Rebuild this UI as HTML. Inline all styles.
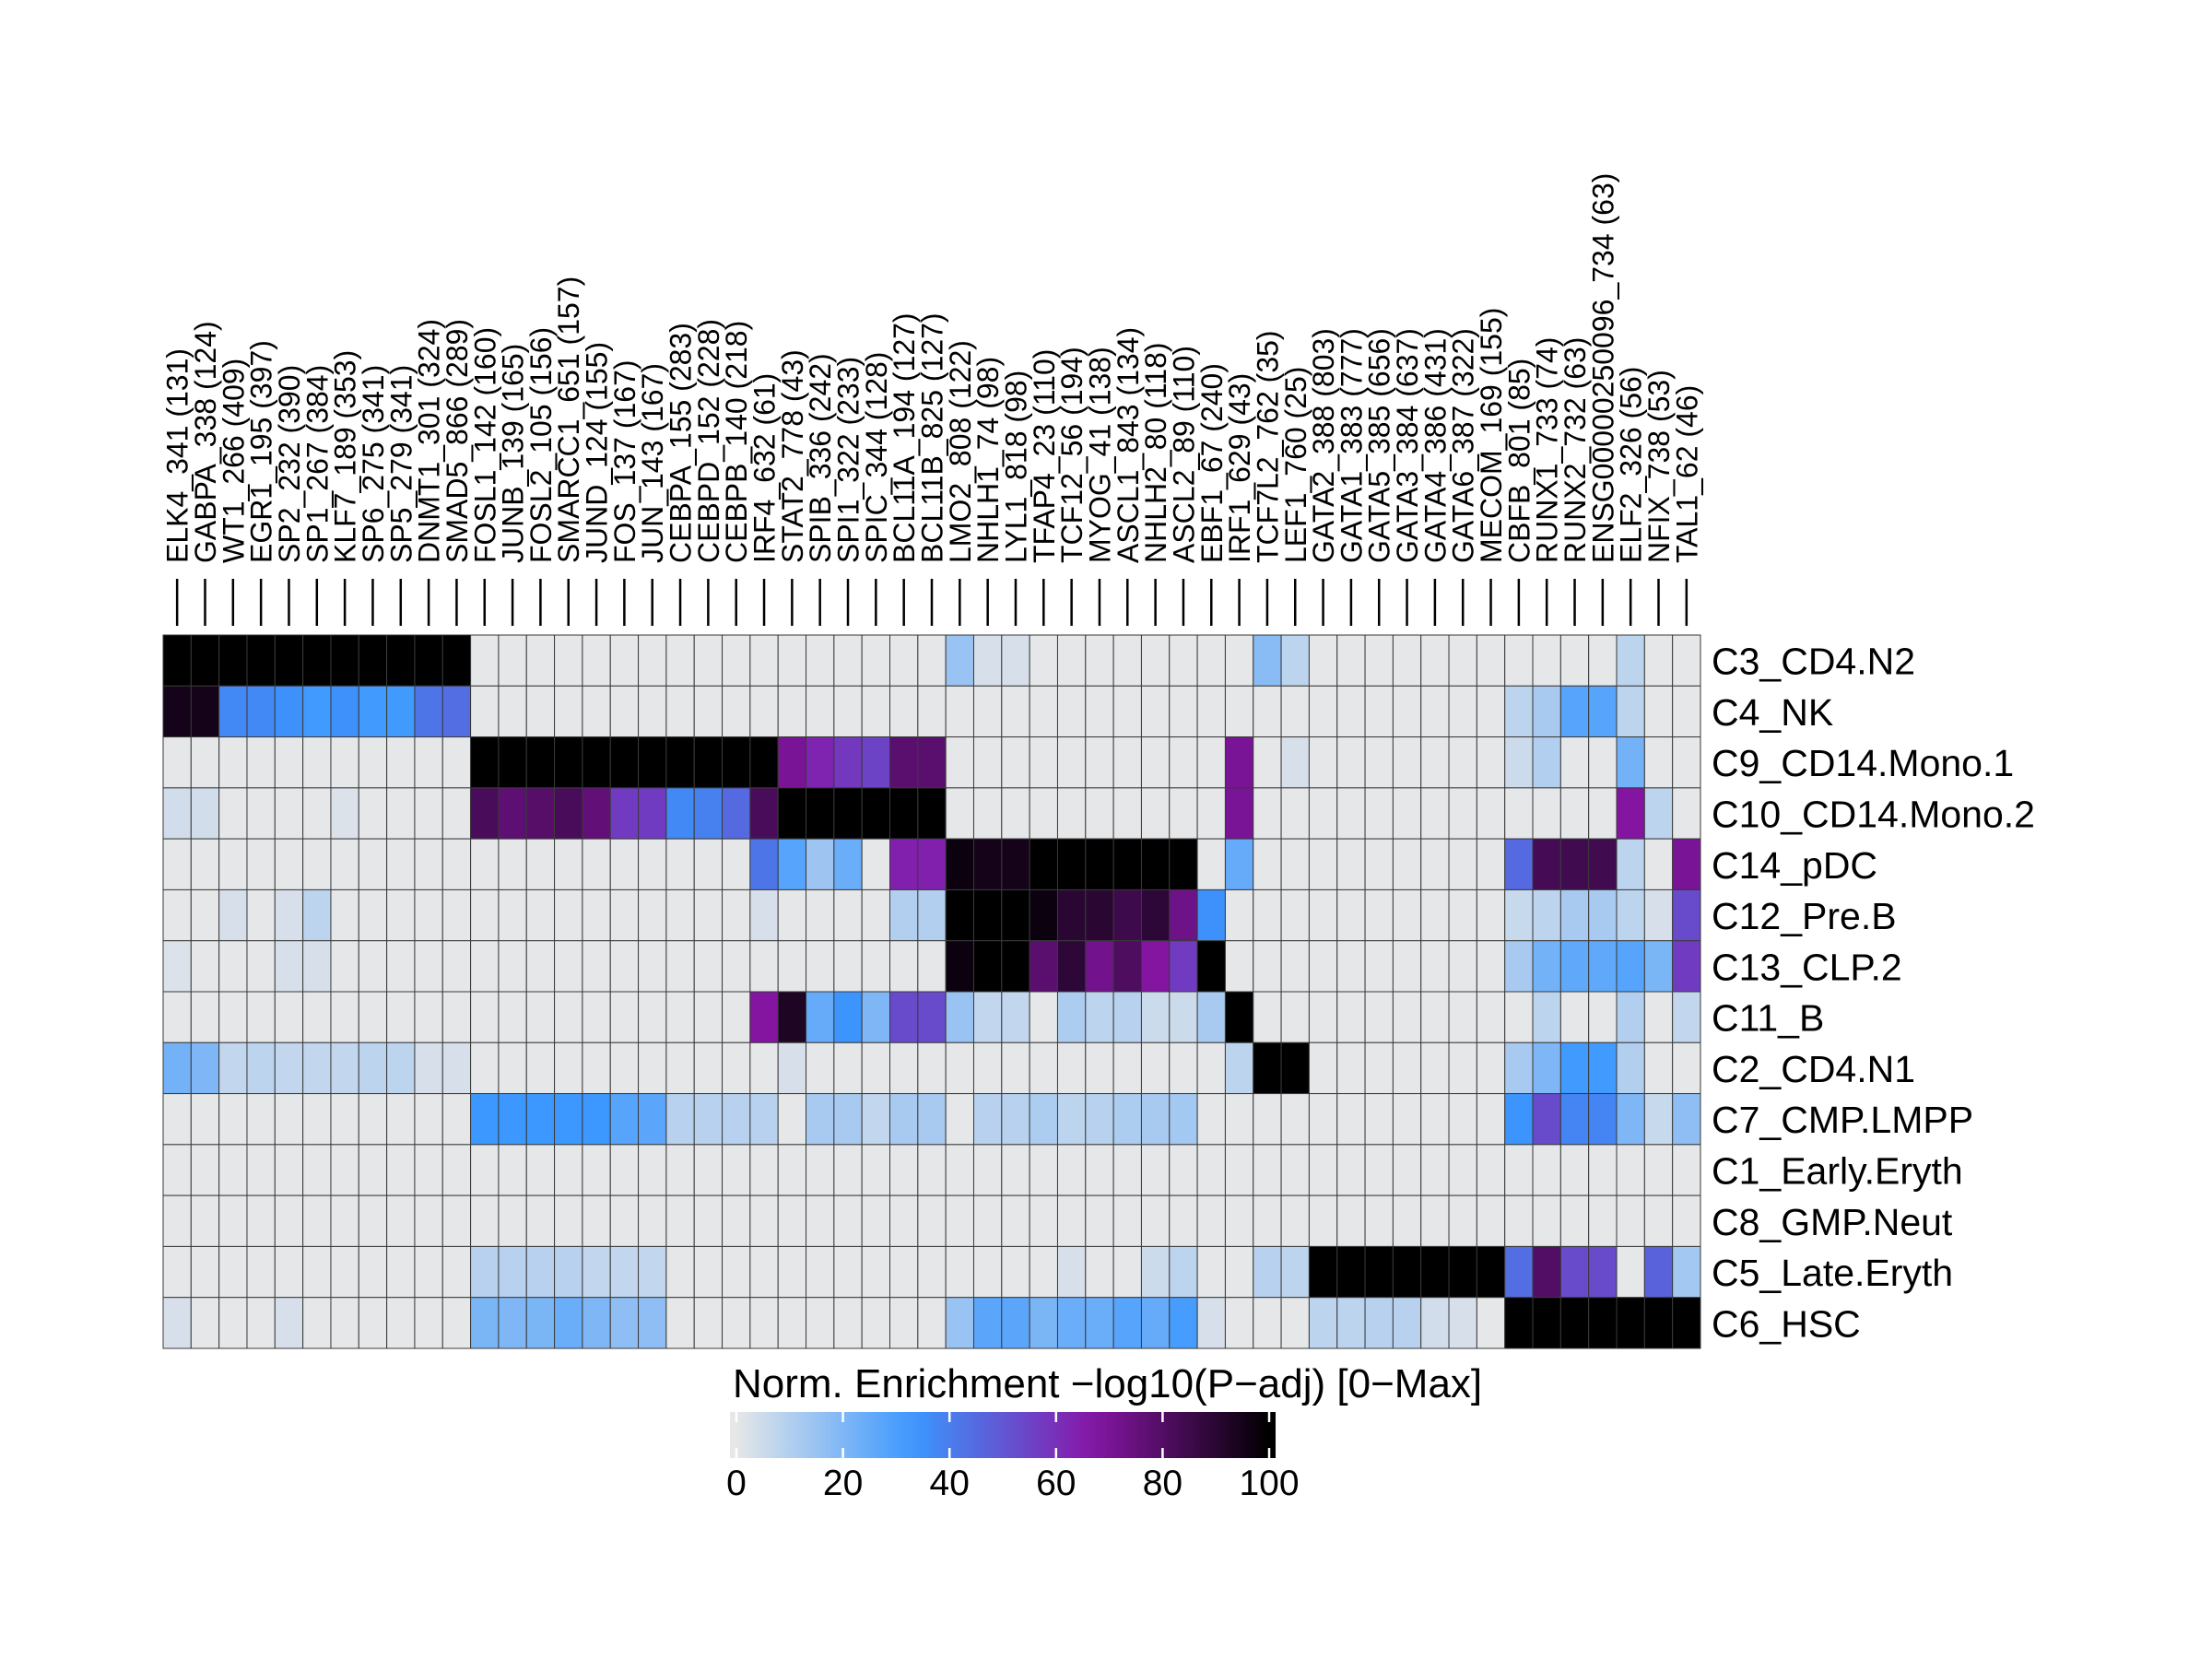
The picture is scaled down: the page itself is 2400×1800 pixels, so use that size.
<!DOCTYPE html>
<html><head><meta charset="utf-8"><style>
html,body{margin:0;padding:0;background:#fff;}
svg{display:block;}
text{font-family:"Liberation Sans",Arial,sans-serif;fill:#000;}
</style></head>
<body>
<svg id="chart" width="2400" height="1800" viewBox="0 0 2400 1800" xmlns="http://www.w3.org/2000/svg">
<rect x="0" y="0" width="2400" height="1800" fill="#fff"/>
<g id="cells"></g>
<g id="collabels"></g>
<g id="rowlabels"></g>
<g id="legend"></g>
</svg>
<script>
const columns = ["ELK4_341 (131)","GABPA_338 (124)","WT1_266 (409)","EGR1_195 (397)","SP2_232 (390)","SP1_267 (384)","KLF7_189 (353)","SP6_275 (341)","SP5_279 (341)","DNMT1_301 (324)","SMAD5_866 (289)","FOSL1_142 (160)","JUNB_139 (165)","FOSL2_105 (156)","SMARCC1_651 (157)","JUND_124 (155)","FOS_137 (167)","JUN_143 (167)","CEBPA_155 (283)","CEBPD_152 (228)","CEBPB_140 (218)","IRF4_632 (61)","STAT2_778 (43)","SPIB_336 (242)","SPI1_322 (233)","SPIC_344 (128)","BCL11A_194 (127)","BCL11B_825 (127)","LMO2_808 (122)","NHLH1_74 (98)","LYL1_818 (98)","TFAP4_23 (110)","TCF12_56 (194)","MYOG_41 (138)","ASCL1_843 (134)","NHLH2_80 (118)","ASCL2_89 (110)","EBF1_67 (240)","IRF1_629 (43)","TCF7L2_762 (35)","LEF1_760 (25)","GATA2_388 (803)","GATA1_383 (777)","GATA5_385 (656)","GATA3_384 (637)","GATA4_386 (431)","GATA6_387 (322)","MECOM_169 (155)","CBFB_801 (85)","RUNX1_733 (74)","RUNX2_732 (63)","ENSG00000250096_734 (63)","ELF2_326 (56)","NFIX_738 (53)","TAL1_62 (46)"];
const rows = ["C3_CD4.N2","C4_NK","C9_CD14.Mono.1","C10_CD14.Mono.2","C14_pDC","C12_Pre.B","C13_CLP.2","C11_B","C2_CD4.N1","C7_CMP.LMPP","C1_Early.Eryth","C8_GMP.Neut","C5_Late.Eryth","C6_HSC"];
const rowC3  = [100,100,100,100,100,100,100,100,100,100,100, 0,0,0,0,0,0,0,0,0,0,0, 0,0,0,0,0,0, 15,3,3,0,0,0,0,0,0, 0,0,18,8, 0,0,0,0,0,0,0, 0,0,0,0,8,0,0];
const rowC4  = [95,95,37,37,35,32,35,32,32,42,44, 0,0,0,0,0,0,0,0,0,0,0, 0,0,0,0,0,0, 0,0,0,0,0,0,0,0,0, 0,0,0,0, 0,0,0,0,0,0,0, 8,12,28,28,8,0,0];
const rowC9  = [0,0,0,0,0,0,0,0,0,0,0, 100,100,100,100,100,100,100,100,100,100,100, 70,63,58,55,78,78, 0,0,0,0,0,0,0,0,0, 0,70,0,3, 0,0,0,0,0,0,0, 5,10,0,0,22,0,0];
const rowC10 = [4,4,0,0,0,0,2,0,0,0,0, 82,77,79,82,76,57,57,37,39,45,82, 100,100,100,100,100,100, 0,0,0,0,0,0,0,0,0, 0,70,0,0, 0,0,0,0,0,0,0, 0,0,0,0,68,8,0];
const rowC14 = [0,0,0,0,0,0,0,0,0,0,0, 0,0,0,0,0,0,0,0,0,0,42, 28,14,24,0,64,64, 97,95,95,100,100,100,100,100,100, 0,25,0,0, 0,0,0,0,0,0,0, 45,83,84,84,8,0,70];
const rowC12 = [0,0,3,0,3,8,0,0,0,0,0, 0,0,0,0,0,0,0,0,0,0,3, 0,0,0,0,10,10, 100,100,100,97,90,90,85,89,73, 35,0,0,0, 0,0,0,0,0,0,0, 6,8,12,12,8,3,53];
const rowC13 = [2,0,0,0,3,3,0,0,0,0,0, 0,0,0,0,0,0,0,0,0,0,0, 0,0,0,0,0,0, 97,100,100,78,89,72,81,68,57, 100,0,0,0, 0,0,0,0,0,0,0, 12,22,26,26,28,21,57];
const rowC11 = [0,0,0,0,0,0,0,0,0,0,0, 0,0,0,0,0,0,0,0,0,0,68, 93,25,34,20,53,53, 15,7,7,0,11,8,9,5,5, 12,100,0,0, 0,0,0,0,0,0,0, 0,8,0,0,10,0,7];
const rowC2  = [22,20,7,8,7,7,7,8,8,3,3, 0,0,0,0,0,0,0,0,0,0,0, 3,0,0,0,0,0, 0,0,0,0,0,0,0,0,0, 0,8,100,100, 0,0,0,0,0,0,0, 12,20,32,32,10,0,0];
const rowC7  = [0,0,0,0,0,0,0,0,0,0,0, 33,33,33,33,33,28,27,9,9,9,9, 0,12,12,7,12,12, 0,9,9,11,8,9,11,12,13, 0,0,0,0, 0,0,0,0,0,0,0, 34,53,38,38,20,6,17];
const rowC1  = [0,0,0,0,0,0,0,0,0,0,0,0,0,0,0,0,0,0,0,0,0,0,0,0,0,0,0,0,0,0,0,0,0,0,0,0,0,0,0,0,0,0,0,0,0,0,0,0,0,0,0,0,0,0,0];
const rowC8  = [0,0,0,0,0,0,0,0,0,0,0,0,0,0,0,0,0,0,0,0,0,0,0,0,0,0,0,0,0,0,0,0,0,0,0,0,0,0,0,0,0,0,0,0,0,0,0,0,0,0,0,0,0,0,0];
const rowC5  = [0,0,0,0,0,0,0,0,0,0,0, 9,9,9,9,7,7,7,0,0,0,0, 0,0,0,0,0,0, 0,0,0,0,3,0,0,5,8, 0,0,9,8, 100,100,100,100,100,100,100, 44,80,53,53,0,47,13];
const rowC6  = [3,0,0,0,3,0,0,0,0,0,0, 21,20,21,24,20,17,17,0,0,0,0, 0,0,0,0,0,0, 15,27,27,21,24,24,28,25,31, 3,0,0,0, 8,8,9,9,4,3,0, 100,100,100,100,100,100,100];
const values = [rowC3,rowC4,rowC9,rowC10,rowC14,rowC12,rowC13,rowC11,rowC2,rowC7,rowC1,rowC8,rowC5,rowC6];
const legendTicks = [0,20,40,60,80,100];
const paletteStops = ["#E6E7E8","#3A97FF","#8816A7","#000000"];

const NS="http://www.w3.org/2000/svg";
const X0=177, X1=1845, Y0=689, Y1=1463;
const cw=(X1-X0)/columns.length, rh=(Y1-Y0)/rows.length;
function xCol(i){return X0+i*cw;}
function yRow(j){return Y0+j*rh;}
function hex(h){return [parseInt(h.slice(1,3),16),parseInt(h.slice(3,5),16),parseInt(h.slice(5,7),16)];}
function colorAt(v){
  const t=Math.max(0,Math.min(1,v/100))*(paletteStops.length-1);
  const i=Math.min(paletteStops.length-2,Math.floor(t)), f=t-i;
  const a=hex(paletteStops[i]), b=hex(paletteStops[i+1]);
  return "rgb("+a.map((c,k)=>Math.round(c+(b[k]-c)*f)).join(",")+")";
}
function mk(tag,attrs,parent){const e=document.createElementNS(NS,tag);for(const k in attrs)e.setAttribute(k,attrs[k]);parent.appendChild(e);return e;}

const gc=document.getElementById("cells");
values.forEach((row,j)=>{
  row.forEach((v,i)=>{
    const r=mk("rect",{x:xCol(i),y:yRow(j),width:cw,height:rh,fill:colorAt(v),stroke:"#3a3a3a","stroke-width":"1"},gc);
    
    
  });
});

const gl=document.getElementById("collabels");
columns.forEach((c,i)=>{
  const cx=xCol(i)+cw/2;
  const tk=mk("line",{x1:cx,x2:cx,y1:628,y2:679,stroke:"#000","stroke-width":"2.5"},gl);
  
  
  const t=mk("text",{x:0,y:0,transform:"translate("+(cx+11.5)+",611) rotate(-90)","font-size":"32"},gl);
  t.textContent=c;
  
  
});

const gr=document.getElementById("rowlabels");
rows.forEach((r,j)=>{
  const t=mk("text",{x:1857,y:yRow(j)+rh/2+15,"font-size":"41"},gr);
  t.textContent=r;
  
  
});

const lg=document.getElementById("legend");
const LX0=792, LX1=1384, LY0=1532, LY1=1582, T0=799, T100=1377;
function xLeg(v){return T0+(T100-T0)*v/100;}
const defs=mk("defs",{},lg);
const grad=mk("linearGradient",{id:"lgGrad",x1:"0",x2:"1",y1:"0",y2:"0"},defs);
for(let k=0;k<=20;k++){
  const v=k*5;
  const off=(xLeg(v)-LX0)/(LX1-LX0);
  mk("stop",{offset:off,"stop-color":colorAt(v)},grad);
}
mk("stop",{offset:1,"stop-color":colorAt(100)},grad);
const title=mk("text",{x:795,y:1516,"font-size":"44"},lg);
title.textContent="Norm. Enrichment \u2212log10(P\u2212adj) [0\u2212Max]";


const bar=mk("rect",{x:LX0,y:LY0,width:LX1-LX0,height:LY1-LY0,fill:"url(#lgGrad)"},lg);


legendTicks.forEach(v=>{
  const x=xLeg(v);
  const a=mk("line",{x1:x,x2:x,y1:LY0,y2:LY0+11,stroke:"#fff","stroke-width":"2.5"},lg);
  
  
  const b=mk("line",{x1:x,x2:x,y1:LY1-11,y2:LY1,stroke:"#fff","stroke-width":"2.5"},lg);
  
  
  const t=mk("text",{x:x,y:1622,"font-size":"39","text-anchor":"middle"},lg);
  t.textContent=String(v);
  
  
});
</script>
</body></html>
